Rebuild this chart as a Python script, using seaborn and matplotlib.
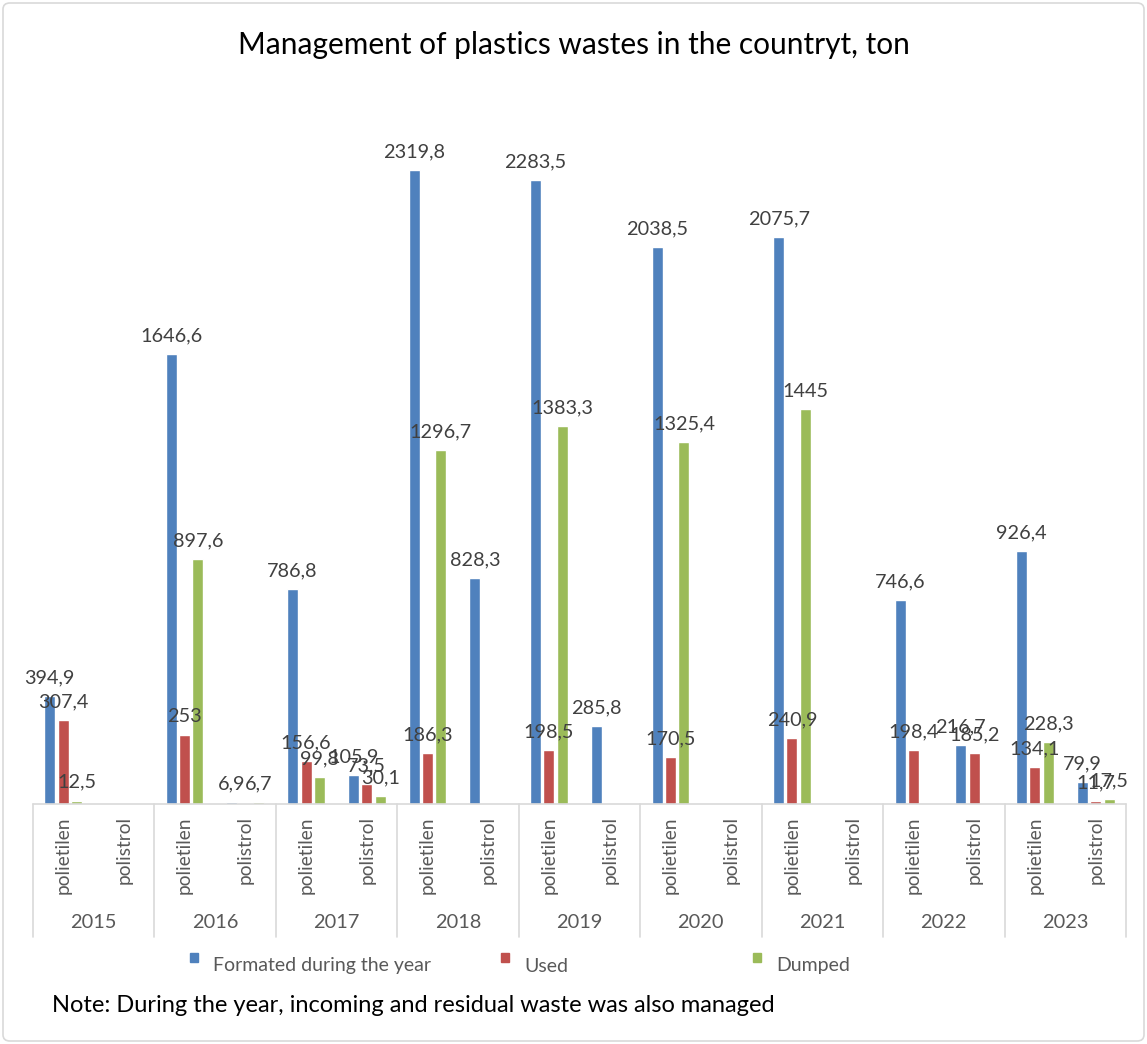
import numpy as np
import pandas as pd
import matplotlib
matplotlib.use("Agg")
import matplotlib.pyplot as plt
from matplotlib.patches import Rectangle, FancyBboxPatch
from matplotlib.transforms import blended_transform_factory
import seaborn as sns

# ---- data (tons) ----
years = ["2015", "2016", "2017", "2018", "2019", "2020", "2021", "2022", "2023"]
materials = ["polietilen", "polistrol"]
series = ["Formated during the year", "Used", "Dumped"]

# values ordered year by year: polietilen, polistrol
formed = [394.9, np.nan, 1646.6, 6.9, 786.8, 105.9, 2319.8, 828.3, 2283.5, 285.8,
          2038.5, np.nan, 2075.7, np.nan, 746.6, 216.7, 926.4, 79.9]
used = [307.4, np.nan, 253.0, np.nan, 156.6, 73.5, 186.3, np.nan, 198.5, np.nan,
        170.5, np.nan, 240.9, np.nan, 198.4, 185.2, 134.1, 11.7]
dumped = [12.5, np.nan, 897.6, 6.7, 99.8, 30.1, 1296.7, np.nan, 1383.3, np.nan,
          1325.4, np.nan, 1445.0, np.nan, np.nan, np.nan, 228.3, 17.5]

colors = ["#4F81BD", "#C0504D", "#9BBB59"]

# ---- long table ----
keys = [f"{y} {m}" for y in years for m in materials]
df = pd.DataFrame({
    "key": keys * 3,
    "series": np.repeat(series, len(keys)),
    "value": formed + used + dumped,
}).dropna()

sns.set_theme(style="white")
plt.rcParams["font.family"] = ["Lato", "DejaVu Sans"]

W, H = 1147, 1044
fig = plt.figure(figsize=(W / 100, H / 100), dpi=100)
left, right, base, top = 32.7, 1126, 804, 121
ax = fig.add_axes([left / W, 1 - base / H, (right - left) / W, (base - top) / H])

sns.barplot(data=df, x="key", y="value", hue="series", order=keys,
            hue_order=series, palette=colors, width=0.662, gap=0.18,
            saturation=1, legend=False, ax=ax, errorbar=None)

ax.set_ylim(0, 2500)
ax.set_xlim(-0.5, len(keys) - 0.5)
ax.set_xlabel("")
ax.set_ylabel("")
ax.set_xticks([])
ax.set_yticks([])
for s in ax.spines.values():
    s.set_visible(False)

# value labels
for cont in ax.containers:
    labels = [f"{v:g}".replace(".", ",") for v in cont.datavalues]
    ax.bar_label(cont, labels=labels, padding=7, fontsize=14.3, color="#404040")

# category axis: baseline, year separators, material and year labels
grid = "#D9D9D9"
ax.plot([-0.5, len(keys) - 0.5], [0, 0], color=grid, lw=1.2, clip_on=False)
tr = blended_transform_factory(ax.transData, fig.transFigure)
y_sep_bottom = 1 - 937 / H
for i in range(len(years) + 1):
    xs = 2 * i - 0.5
    ax.plot([xs, xs], [1 - base / H, y_sep_bottom], color=grid, lw=1.2,
            transform=tr, clip_on=False)
for i, k in enumerate(keys):
    ax.text(i, 1 - 816 / H, k.split()[1], rotation=90, ha="center", va="top",
            fontsize=13.8, color="#595959", transform=tr)
for j, y in enumerate(years):
    ax.text(2 * j + 0.5, 1 - 922 / H, y, ha="center", va="center",
            fontsize=14.4, color="#595959", transform=tr)

# title
fig.text(0.5, 1 - 45 / H, "Management of plastics wastes in the countryt, ton",
         ha="center", va="center", fontsize=21.5, color="#000000")

# legend
leg_y = 966
for px, name, c in zip([194, 505, 757], series, colors):
    fig.add_artist(Rectangle(((px - 4) / W, 1 - (leg_y - 4) / H), 8 / W, 9 / H,
                             transform=fig.transFigure, color=c))
    fig.text((px + 19) / W, 1 - leg_y / H, name, ha="left", va="center",
             fontsize=14, color="#595959")

# footnote
fig.text(52 / W, 1 - 1005 / H,
         "Note: During the year, incoming and residual waste was also managed",
         ha="left", va="center", fontsize=17, color="#000000")

# outer frame
fig.add_artist(FancyBboxPatch((3 / W, 3 / H), 1 - 6 / W, 1 - 6 / H,
                              boxstyle="round,pad=0,rounding_size=0.006",
                              transform=fig.transFigure, fill=False,
                              edgecolor="#D9D9D9", lw=1.2))

fig.savefig("out.png", dpi=100, facecolor="white")
